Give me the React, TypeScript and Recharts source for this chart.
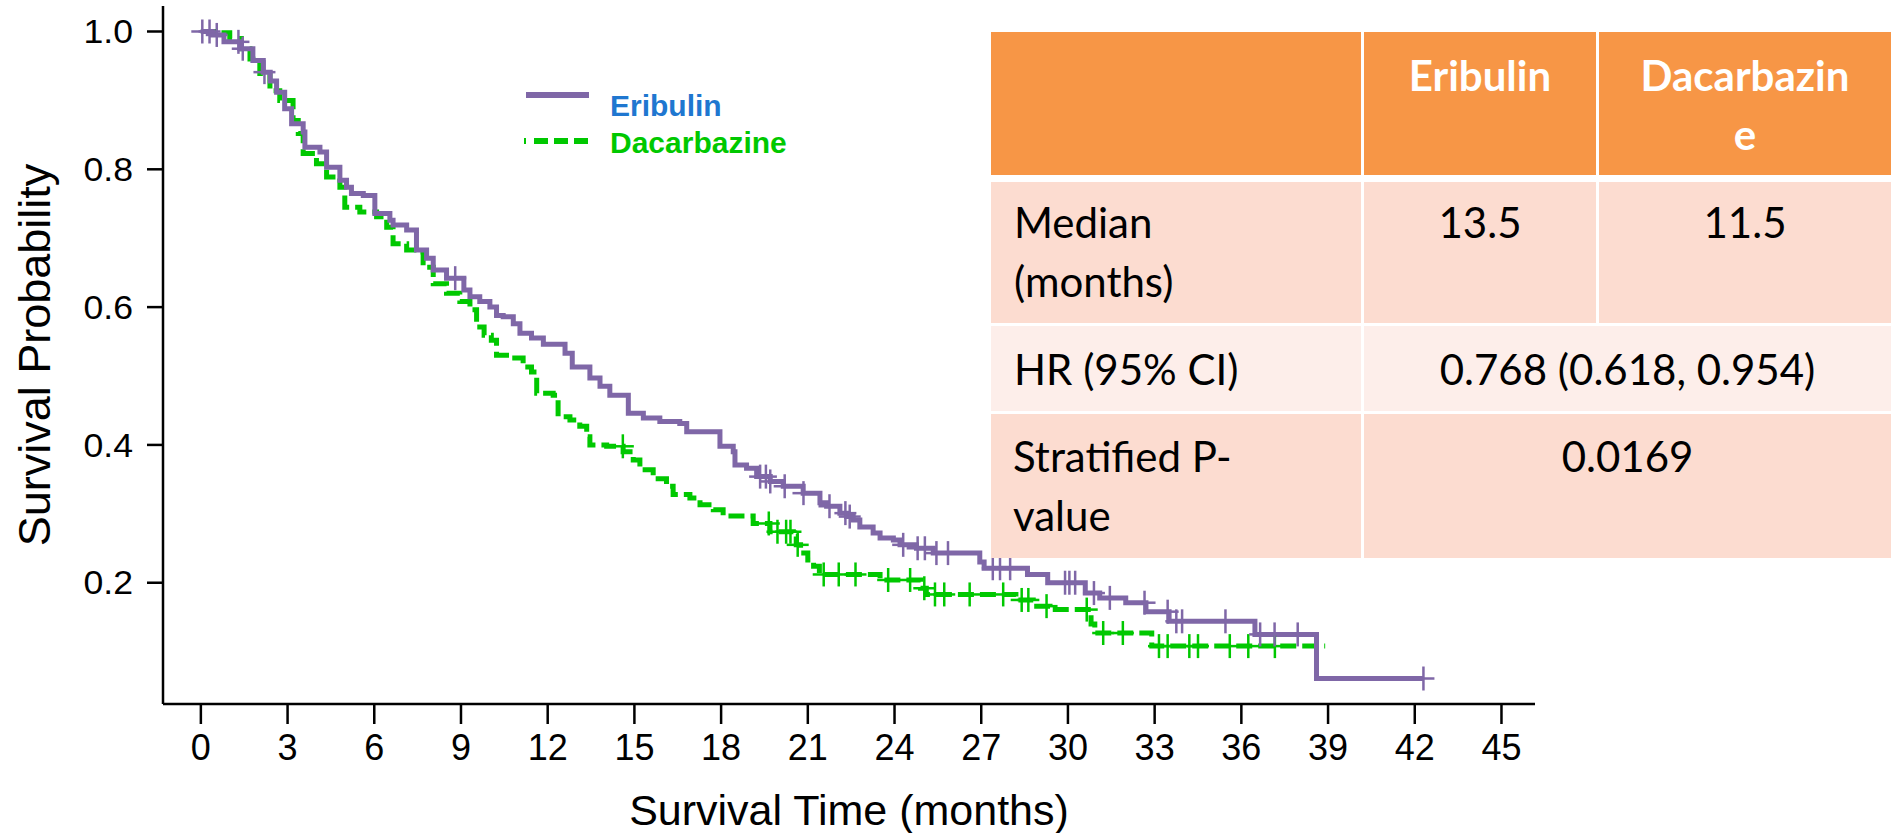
import React from 'react';
import { ComposedChart, Line, Scatter, XAxis, YAxis } from 'recharts';

// Kaplan-Meier steps: time in months, survival probability after the drop
const eribulinTime = [
  0, 0.4, 0.8, 1.35, 1.8, 2.16, 2.4, 2.62, 2.9, 3.14, 3.54, 3.6, 4.12, 4.35, 4.81, 5.04, 5.21, 5.62,
  6.02, 6.54, 6.65, 7.12, 7.46, 7.81, 8.04, 8.5, 9.1, 9.31, 9.65, 10.0, 10.23, 10.46, 10.81, 11.04,
  11.44, 11.85, 12.6, 12.85, 13.46, 13.81, 14.15, 14.79, 15.31, 15.88, 16.57, 16.81, 17.96, 18.42,
  18.48, 18.88, 19.23, 19.7, 20.15, 20.84, 21.42, 21.65, 22.11, 22.34, 22.57, 22.8, 23.26, 23.5,
  23.96, 24.19, 24.76, 25.34, 26.95, 27.1, 28.6, 29.3, 30.6, 31.1, 32.0, 32.7, 33.5, 36.47, 38.6, 42.3,
];
const eribulinSurv = [
  1.0, 0.995, 0.985, 0.975, 0.958, 0.941, 0.928, 0.912, 0.888, 0.866, 0.854, 0.832, 0.825, 0.803,
  0.784, 0.774, 0.765, 0.762, 0.736, 0.726, 0.719, 0.712, 0.683, 0.671, 0.654, 0.642, 0.625, 0.615,
  0.608, 0.6, 0.588, 0.586, 0.576, 0.562, 0.555, 0.546, 0.533, 0.513, 0.497, 0.485, 0.472, 0.446,
  0.439, 0.434, 0.431, 0.419, 0.398, 0.39, 0.371, 0.366, 0.354, 0.347, 0.34, 0.33, 0.316, 0.311,
  0.301, 0.296, 0.291, 0.281, 0.272, 0.265, 0.262, 0.255, 0.25, 0.243, 0.23, 0.221, 0.212, 0.2,
  0.185, 0.178, 0.171, 0.158, 0.144, 0.125, 0.061, 0.061,
];
const eribulinCensor = [
  0.05, 0.3, 0.55, 1.3, 1.45, 2.2, 8.8, 19.35, 19.55, 19.7, 20.2, 20.85, 21.75, 22.3, 22.45, 24.3,
  24.8, 25.05, 25.45, 25.85, 27.4, 27.65, 28.0, 29.9, 30.05, 30.25, 30.9, 31.45, 32.65, 33.45, 33.75,
  33.95, 35.45, 36.65, 37.15, 37.95, 42.3,
];

const dacarbazineTime = [
  0, 0.5, 1.0, 1.4, 1.7, 2.04, 2.39, 2.73, 3.19, 3.37, 3.54, 4.0, 4.35, 4.81, 4.98, 5.5, 6.08, 6.43,
  6.65, 7.12, 7.46, 7.69, 8.04, 8.5, 8.96, 9.31, 9.54, 9.8, 10.05, 10.23, 10.69, 11.15, 11.44, 11.62,
  12.19, 12.36, 12.77, 13.11, 13.35, 13.46, 14.04, 14.61, 14.96, 15.19, 15.65, 16.11, 16.34, 16.92,
  17.27, 17.73, 18.07, 19.11, 19.69, 20.5, 20.6, 20.75, 21.0, 21.2, 21.4, 23.5, 24.9, 25.1, 28.2,
  28.8, 29.38, 30.8, 30.93, 32.9, 38.9,
];
const dacarbazineSurv = [
  1.0, 0.998, 0.99, 0.975, 0.96, 0.939, 0.914, 0.9, 0.871, 0.852, 0.823, 0.808, 0.789, 0.774, 0.745,
  0.738, 0.731, 0.716, 0.692, 0.683, 0.68, 0.658, 0.634, 0.62, 0.608, 0.596, 0.571, 0.559, 0.552,
  0.53, 0.526, 0.513, 0.506, 0.475, 0.472, 0.441, 0.436, 0.427, 0.412, 0.4, 0.398, 0.39, 0.378,
  0.364, 0.351, 0.34, 0.328, 0.323, 0.313, 0.306, 0.297, 0.286, 0.274, 0.267, 0.255, 0.243, 0.233,
  0.224, 0.212, 0.204, 0.192, 0.183, 0.175, 0.166, 0.161, 0.14, 0.127, 0.108, 0.108,
];
const dacarbazineCensor = [
  14.6, 19.65, 19.95, 20.25, 20.4, 20.65, 21.55, 22.07, 22.65, 23.78, 24.54, 25.03, 25.4, 25.72,
  26.6, 27.76, 28.4, 28.63, 29.26, 30.65, 31.22, 31.9, 33.15, 33.45, 34.2, 34.5, 35.6, 36.24, 37.16,
];

const xTicks = [0, 3, 6, 9, 12, 15, 18, 21, 24, 27, 30, 33, 36, 39, 42, 45];
const yTicks = [0.2, 0.4, 0.6, 0.8, 1.0];

const tableHeader = ['', 'Eribulin', 'Dacarbazin\ne'];
const medianRow = ['Median\n(months)', '13.5', '11.5'];
const hrRow = ['HR (95% CI)', '0.768 (0.618, 0.954)'];
const pRow = ['Stratified P-\nvalue', '0.0169'];

const PURPLE = '#7F67A7';
const GREEN = '#00C800';
const AXIS_FONT = '"Liberation Sans", Arial, sans-serif';
const TABLE_FONT = 'Lato, "Open Sans", sans-serif';

const toSteps = (times: number[], surv: number[]) => times.map((t, i) => ({ t, s: surv[i] }));

// value of the step curve at time t (last drop at or before t)
const survAt = (times: number[], surv: number[], t: number) => {
  let s = surv[0];
  for (let i = 0; i < times.length; i++) if (times[i] <= t) s = surv[i];
  return s;
};

const toCensor = (censor: number[], times: number[], surv: number[]) =>
  censor.map((t) => ({ t, s: survAt(times, surv, t) }));

const eribulinData = toSteps(eribulinTime, eribulinSurv);
const dacarbazineData = toSteps(dacarbazineTime, dacarbazineSurv);
const eribulinMarks = toCensor(eribulinCensor, eribulinTime, eribulinSurv);
const dacarbazineMarks = toCensor(dacarbazineCensor, dacarbazineTime, dacarbazineSurv);

const plusShape = (color: string) => (props: any) => {
  const { cx, cy } = props;
  return (
    <g stroke={color} strokeWidth={2.5}>
      <line x1={cx - 11} y1={cy} x2={cx + 11} y2={cy} />
      <line x1={cx} y1={cy - 12} x2={cx} y2={cy + 12} />
    </g>
  );
};

const YTick = (props: any) => {
  const { x, y, payload } = props;
  return (
    <text
      transform={`translate(${x},${y}) scale(1.08,1)`}
      textAnchor="end"
      dy="0.355em"
      fontSize={33}
      fontFamily={AXIS_FONT}
      fill="#000"
    >
      {payload.value.toFixed(1)}
    </text>
  );
};

const XTick = (props: any) => {
  const { x, y, payload } = props;
  return (
    <text x={x} y={y} dy="0.71em" textAnchor="middle" fontSize={36} fontFamily={AXIS_FONT} fill="#000">
      {payload.value}
    </text>
  );
};

const XTitle = (props: any) => {
  const { viewBox } = props;
  return (
    <text
      x={viewBox.x + viewBox.width / 2}
      y={viewBox.y + 121}
      textAnchor="middle"
      fontSize={43}
      fontFamily={AXIS_FONT}
      fill="#000"
    >
      Survival Time (months)
    </text>
  );
};

const YTitle = (props: any) => {
  const { viewBox } = props;
  const cy = viewBox.y + viewBox.height / 2;
  return (
    <text
      transform={`translate(50,${cy}) rotate(-90)`}
      textAnchor="middle"
      fontSize={45}
      fontFamily={AXIS_FONT}
      fill="#000"
    >
      Survival Probability
    </text>
  );
};

function Legend() {
  return (
    <g fontFamily={AXIS_FONT} fontWeight="bold" fontSize={30}>
      <line x1={526} y1={95} x2={589} y2={95} stroke={PURPLE} strokeWidth={6} />
      <text x={610} y={116} fill="#1F77D0">Eribulin</text>
      <line x1={524} y1={141} x2={526} y2={141} stroke={GREEN} strokeWidth={6} />
      <line x1={534} y1={141} x2={590} y2={141} stroke={GREEN} strokeWidth={6} strokeDasharray="14 6" />
      <text x={610} y={153} fill={GREEN}>Dacarbazine</text>
    </g>
  );
}

// multi-line cell text; lines split on \n
function CellText({ text, x, y, anchor, bold, color }: any) {
  return (
    <text
      x={x}
      y={y}
      textAnchor={anchor}
      fontFamily={TABLE_FONT}
      fontSize={42}
      fontWeight={bold ? 'bold' : 'normal'}
      fill={color || '#000'}
    >
      {text.split('\n').map((line: string, i: number) => (
        <tspan key={i} x={x} dy={i === 0 ? 0 : 59}>
          {line}
        </tspan>
      ))}
    </text>
  );
}

function StatsTable() {
  const c1 = [991, 1361];
  const c2 = [1364, 1596];
  const c3 = [1599, 1891];
  const mid = (c: number[]) => (c[0] + c[1]) / 2;
  const band = '#FCDCD0';
  const light = '#FDEEEA';
  return (
    <g>
      <rect x={c1[0]} y={32} width={c1[1] - c1[0]} height={143} fill="#F79646" />
      <rect x={c2[0]} y={32} width={c2[1] - c2[0]} height={143} fill="#F79646" />
      <rect x={c3[0]} y={32} width={c3[1] - c3[0]} height={143} fill="#F79646" />
      <CellText text={tableHeader[1]} x={mid(c2)} y={91} anchor="middle" bold color="#fff" />
      <CellText text={tableHeader[2]} x={mid(c3)} y={91} anchor="middle" bold color="#fff" />

      <rect x={c1[0]} y={182} width={c1[1] - c1[0]} height={141} fill={band} />
      <rect x={c2[0]} y={182} width={c2[1] - c2[0]} height={141} fill={band} />
      <rect x={c3[0]} y={182} width={c3[1] - c3[0]} height={141} fill={band} />
      <CellText text={medianRow[0]} x={1014} y={238} anchor="start" />
      <CellText text={medianRow[1]} x={mid(c2)} y={238} anchor="middle" />
      <CellText text={medianRow[2]} x={mid(c3)} y={238} anchor="middle" />

      <rect x={c1[0]} y={326} width={c1[1] - c1[0]} height={85} fill={light} />
      <rect x={c2[0]} y={326} width={c3[1] - c2[0]} height={85} fill={light} />
      <CellText text={hrRow[0]} x={1014} y={385} anchor="start" />
      <CellText text={hrRow[1]} x={(c2[0] + c3[1]) / 2} y={385} anchor="middle" />

      <rect x={c1[0]} y={414} width={c1[1] - c1[0]} height={144} fill={band} />
      <rect x={c2[0]} y={414} width={c3[1] - c2[0]} height={144} fill={band} />
      <CellText text={pRow[0]} x={1013} y={472} anchor="start" />
      <CellText text={pRow[1]} x={(c2[0] + c3[1]) / 2} y={472} anchor="middle" />
    </g>
  );
}

export default function App() {
  const axisStroke = { stroke: '#000', strokeWidth: 2.5 };
  return (
    <div style={{ position: 'relative', width: 1891, height: 833, background: '#fff' }}>
      <style>{'body{margin:0}'}</style>
      <ComposedChart width={1891} height={833} margin={{ top: 6, right: 356, bottom: 69, left: 63 }}>
        <XAxis
          type="number"
          dataKey="t"
          domain={[-1.31, 46.16]}
          ticks={xTicks}
          allowDataOverflow
          height={60}
          tickSize={20}
          tickMargin={10}
          axisLine={axisStroke}
          tickLine={axisStroke}
          tick={<XTick />}
          label={<XTitle />}
        />
        <YAxis
          type="number"
          dataKey="s"
          domain={[0.024, 1.037]}
          ticks={yTicks}
          allowDataOverflow
          width={100}
          tickSize={16}
          tickMargin={14}
          axisLine={axisStroke}
          tickLine={axisStroke}
          tick={<YTick />}
          label={<YTitle />}
        />
        <Line
          data={dacarbazineData}
          dataKey="s"
          type="stepAfter"
          stroke={GREEN}
          strokeWidth={5}
          strokeDasharray="16 6"
          dot={false}
          isAnimationActive={false}
        />
        <Line
          data={eribulinData}
          dataKey="s"
          type="stepAfter"
          stroke={PURPLE}
          strokeWidth={5}
          dot={false}
          isAnimationActive={false}
        />
        <Scatter data={dacarbazineMarks} dataKey="s" shape={plusShape(GREEN)} isAnimationActive={false} />
        <Scatter data={eribulinMarks} dataKey="s" shape={plusShape(PURPLE)} isAnimationActive={false} />
      </ComposedChart>
      <svg
        width={1891}
        height={833}
        style={{ position: 'absolute', left: 0, top: 0, pointerEvents: 'none' }}
      >
        <Legend />
        <StatsTable />
      </svg>
    </div>
  );
}
